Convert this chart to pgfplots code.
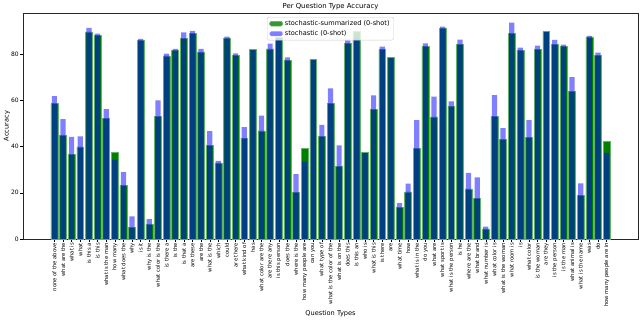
\documentclass[border=0pt]{standalone}
\usepackage{pgfplots}
\usepackage{pgfplotstable}
\pgfplotsset{compat=1.18}
\usepackage{fontspec}
\setmainfont{DejaVu Sans}
\definecolor{mplgreen}{HTML}{008000}
\definecolor{mplblue}{HTML}{0000FF}

\pgfplotstableread{
x g b
0 58.6 61.8
1 44.7 51.9
2 36.6 44.2
3 39.9 44.4
4 89.6 91.4
5 88.1 88.9
6 52.2 56.2
7 37.6 34.2
8 23.1 28.9
9 4.9 9.8
10 85.9 86.6
11 6.3 8.6
12 53.1 60.0
13 79.3 80.2
14 81.5 82.3
15 86.9 89.4
16 88.9 90.1
17 81.0 82.3
18 40.6 46.7
19 32.9 33.8
20 86.8 87.6
21 79.6 80.3
22 43.7 48.4
23 81.9 81.7
24 46.8 53.4
25 82.3 84.5
26 87.3 87.1
27 77.3 78.6
28 20.1 28.1
29 39.2 33.5
30 77.7 77.5
31 44.5 49.4
32 58.6 65.2
33 31.3 40.5
34 84.5 85.9
35 90.0 87.3
36 37.5 37.3
37 56.2 62.1
38 81.9 83.2
39 78.6 78.4
40 13.6 15.5
41 20.4 24.0
42 39.1 51.4
43 83.3 84.7
44 52.9 61.6
45 91.2 91.9
46 57.3 59.6
47 84.3 86.3
48 21.7 28.6
49 17.5 26.7
50 4.4 5.4
51 53.0 62.3
52 43.2 48.0
53 88.9 93.6
54 81.6 82.8
55 44.1 51.4
56 81.9 83.7
57 89.8 89.6
58 84.2 86.2
59 83.2 84.1
60 63.8 70.1
61 18.8 24.1
62 87.5 87.9
63 79.6 80.7
64 42.4 37.3
}\datatable

\begin{document}
\begin{tikzpicture}
\begin{axis}[
  scale only axis,
  width=615bp, height=226bp,
  xmin=-3.64, xmax=67.64,
  ymin=0, ymax=97.8,
  axis line style={line width=0.45bp, black!85},
  xtick={0,...,64},
  xticklabels={none of the above,what are the,what is,what,is this a,is this,what is the man,how many,what does the,why,is it,why is the,what color is the,is there a,is the,is that a,are these,are the,what is the,which,could,are there,what kind of,has,what color are the,are there any,is this person,does the,where is the,how many people are,can you,what type of,what is the color of the,what is on the,does this,is this an,who is,what is this,is there,are,what time,how,what is in the,do you,what are,what sport is,what is the person,is he,where are the,what brand,what number is,what color is,what is the woman,what room is,is,what color,is the woman,are they,is the person,is the man,what animal is,what is the name,was,do,how many people are in},
  ytick={0,20,40,60,80},
  xtick pos=bottom, ytick pos=left,
  tick align=outside,
  major tick length=2.6bp,
  tick style={line width=0.4bp, black},
  /pgf/number format/assume math mode=true,
  x tick label style={rotate=90, anchor=east, font=\fontsize{5.3bp}{6bp}\selectfont, inner sep=1.2bp},
  y tick label style={font=\fontsize{6bp}{7bp}\selectfont, inner sep=1.5bp},
  title={Per Question Type Accuracy},
  every axis title shift=0pt,
  title style={at={(axis description cs:0.5,1)}, anchor=base, inner sep=0pt, yshift=5bp, font=\fontsize{6.9bp}{8bp}\selectfont},
  xlabel={Question Types},
  xlabel style={at={(axis description cs:0.5,0)}, anchor=center, yshift=-75bp, font=\fontsize{6.6bp}{8bp}\selectfont},
  ylabel={Accuracy},
  ylabel style={at={(axis description cs:-0.026,0.5)}, anchor=center, font=\fontsize{6.6bp}{8bp}\selectfont},
  legend style={at={(axis description cs:0.5,0.982)}, anchor=north, draw=black!20, rounded corners=1.5bp,
    fill=white, fill opacity=0.8, text opacity=1, font=\fontsize{6.6bp}{7.5bp}\selectfont,
    inner xsep=2.2bp, inner ysep=1.2bp, row sep=-0.5bp, line width=0.4bp},
  legend cell align=left,
  legend image code/.code={\path[#1] (0bp,-2.3bp) rectangle (13bp,2.3bp);},
]
\addplot[ybar, bar width=0.8, bar shift=0pt, fill=mplgreen, draw=mplgreen!60, line width=0.5bp] table[x=x,y=g] {\datatable};
\addlegendentry{stochastic-summarized (0-shot)}
\addplot[ybar, bar width=0.6, bar shift=0pt, fill=mplblue, fill opacity=0.5, draw=none] table[x=x,y=b] {\datatable};
\addlegendentry{stochastic (0-shot)}
\end{axis}
\pgfresetboundingbox
\path[use as bounding box] ([shift={(-23bp,-81bp)}]current axis.south west) rectangle ([shift={(2bp,13bp)}]current axis.north east);
\end{tikzpicture}
\end{document}
